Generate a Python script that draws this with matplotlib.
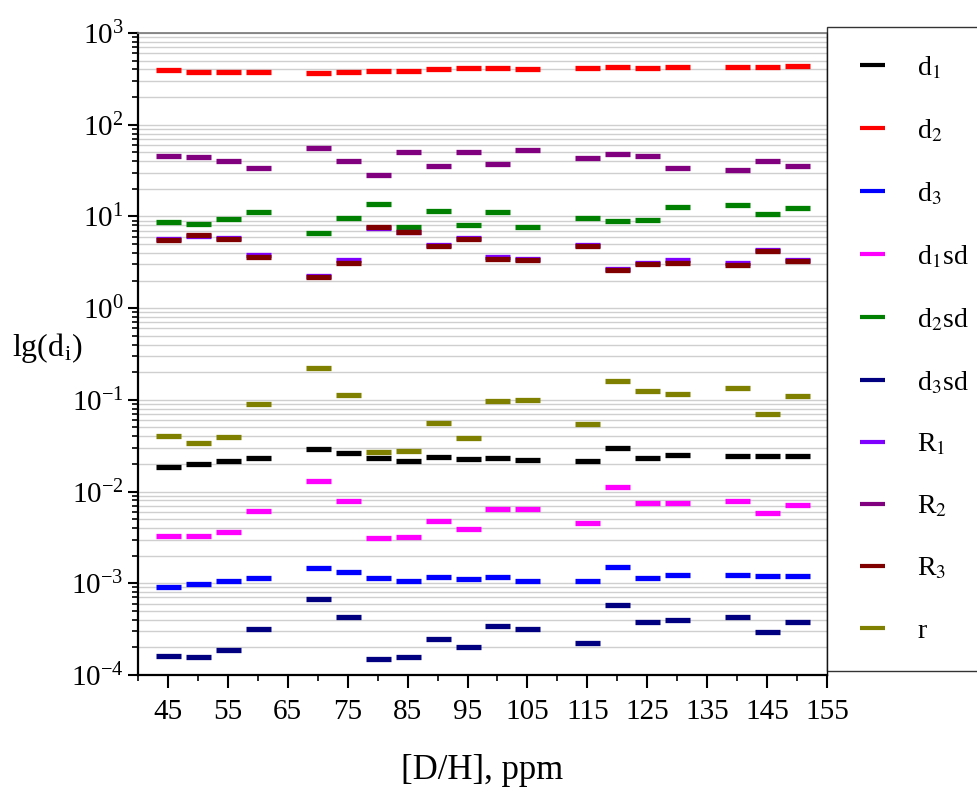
import numpy as np
import matplotlib
matplotlib.use("Agg")
import matplotlib.pyplot as plt
from matplotlib.ticker import LogLocator, FixedLocator, NullFormatter, LogFormatterMathtext

plt.rcParams['font.family'] = ['Liberation Serif', 'DejaVu Serif']
plt.rcParams['mathtext.fontset'] = 'stix'

x = [45, 50, 55, 60, 70, 75, 80, 85, 90, 95, 100, 105, 115, 120, 125, 130, 140, 145, 150]

d1 = [0.0186, 0.0201, 0.0213, 0.0235, 0.0293, 0.0265, 0.0234, 0.0217, 0.0237, 0.0226,
      0.0234, 0.0220, 0.0217, 0.0298, 0.0233, 0.0248, 0.0246, 0.0246, 0.0242]
d2 = [395, 376, 376, 372, 369, 378, 385, 388, 401, 411,
      415, 401, 419, 426, 419, 422, 422, 429, 436]
d3 = [0.00090, 0.00098, 0.00105, 0.00115, 0.00145, 0.00132, 0.00114, 0.00106, 0.00117, 0.00112,
      0.00116, 0.00107, 0.00107, 0.00149, 0.00114, 0.00123, 0.00124, 0.00120, 0.00120]
d1sd = [0.00327, 0.00329, 0.00365, 0.00613, 0.0130, 0.00787, 0.00311, 0.00318, 0.00481, 0.00393,
        0.00644, 0.00644, 0.00453, 0.0112, 0.00755, 0.00743, 0.00794, 0.00577, 0.00718]
d2sd = [8.69, 8.26, 9.28, 11.2, 6.64, 9.51, 13.6, 7.72, 11.5, 8.05,
        11.2, 7.59, 9.68, 8.91, 9.2, 12.7, 13.2, 10.7, 12.4]
d3sd = [0.000163, 0.000157, 0.000185, 0.000316, 0.000673, 0.000424, 0.000150, 0.000159, 0.000250, 0.000201,
        0.000344, 0.000319, 0.000226, 0.000578, 0.000374, 0.000400, 0.000428, 0.000291, 0.000378]
R1 = [5.71, 6.05, 5.80, 3.80, 2.25, 3.35, 7.45, 6.80, 4.88, 5.75,
      3.61, 3.45, 4.90, 2.70, 3.10, 3.31, 3.08, 4.30, 3.37]
R2 = [45.1, 45.0, 40.5, 33.4, 55.7, 39.8, 28.3, 50.8, 35.1, 50.8,
      36.9, 53.0, 42.9, 47.8, 45.6, 33.4, 32.1, 39.8, 35.5]
R3 = [5.53, 6.21, 5.71, 3.63, 2.20, 3.13, 7.59, 6.75, 4.71, 5.61,
      3.40, 3.38, 4.79, 2.62, 3.05, 3.08, 2.92, 4.20, 3.23]
r = [0.0403, 0.0335, 0.0389, 0.0891, 0.222, 0.113, 0.0270, 0.0279, 0.0558, 0.0387,
     0.0977, 0.0990, 0.0540, 0.161, 0.124, 0.117, 0.135, 0.0693, 0.111]

series = [
    (d1, r'd$_1$', '#000000'),
    (d2, r'd$_2$', '#FF0000'),
    (d3, r'd$_3$', '#0000FF'),
    (d1sd, r'd$_1$sd', '#FF00FF'),
    (d2sd, r'd$_2$sd', '#008000'),
    (d3sd, r'd$_3$sd', '#000080'),
    (R1, r'R$_1$', '#8000FF'),
    (R2, r'R$_2$', '#800080'),
    (R3, r'R$_3$', '#800000'),
    (r, r'r', '#808000'),
]

fig = plt.figure(figsize=(9.77, 7.91), dpi=100)
ax = fig.add_axes([138 / 977, 1 - 675 / 791, (827 - 138) / 977, (675 - 33) / 791])

for vals, label, color in series:
    ax.plot(x, vals, linestyle='none', marker='_', markersize=18,
            markeredgewidth=3.8, color=color, label=label)

ax.set_yscale('log')
ax.set_ylim(1e-4, 1e3)
ax.set_xlim(40, 155)

ax.xaxis.set_major_locator(FixedLocator(np.arange(45, 156, 10)))
ax.xaxis.set_minor_locator(FixedLocator(np.arange(40, 156, 10)))
ax.yaxis.set_major_locator(LogLocator(base=10, numticks=20))
ax.yaxis.set_minor_locator(LogLocator(base=10, subs=np.arange(2, 10), numticks=20))
ax.yaxis.set_major_formatter(LogFormatterMathtext())
ax.yaxis.set_minor_formatter(NullFormatter())

ax.grid(True, which='both', axis='y', color='#cfcfcf', linewidth=1.0)
ax.set_axisbelow(True)

ax.tick_params(axis='x', which='major', direction='out', length=9, width=1.5,
               labelsize=21, pad=8)
ax.tick_params(axis='x', which='minor', direction='out', length=4.5, width=1.2)
ax.tick_params(axis='y', which='major', direction='out', length=7.5, width=1.5,
               labelsize=21, pad=3)
ax.tick_params(axis='y', which='minor', direction='out', length=4, width=1.2)
ax.tick_params(top=False, right=False)

for side in ['left', 'bottom']:
    ax.spines[side].set_linewidth(1.6)
ax.spines['top'].set_color('#777777')
ax.spines['top'].set_linewidth(1.2)
ax.spines['right'].set_color('#000000')
ax.spines['right'].set_linewidth(1.0)

ax.set_xlabel('[D/H], ppm', fontsize=25, labelpad=21)
ax.set_ylabel(r'lg(d$_\mathregular{i}$)', fontsize=23, rotation=0, va='center', ha='center')
ax.yaxis.set_label_coords(-0.132, 0.51)

leg = ax.legend(loc='upper left', bbox_to_anchor=(1.0, 1.01), fontsize=20,
                frameon=True, fancybox=False, edgecolor='black',
                borderaxespad=0, handlelength=1.25, handletextpad=1.0,
                labelspacing=1.31, borderpad=1.0, markerscale=1.0)
leg.get_frame().set_linewidth(1.0)
for h in leg.legend_handles:
    h.set_markersize(18)
    h.set_markeredgewidth(3)

fig.savefig('out.png', dpi=100)
